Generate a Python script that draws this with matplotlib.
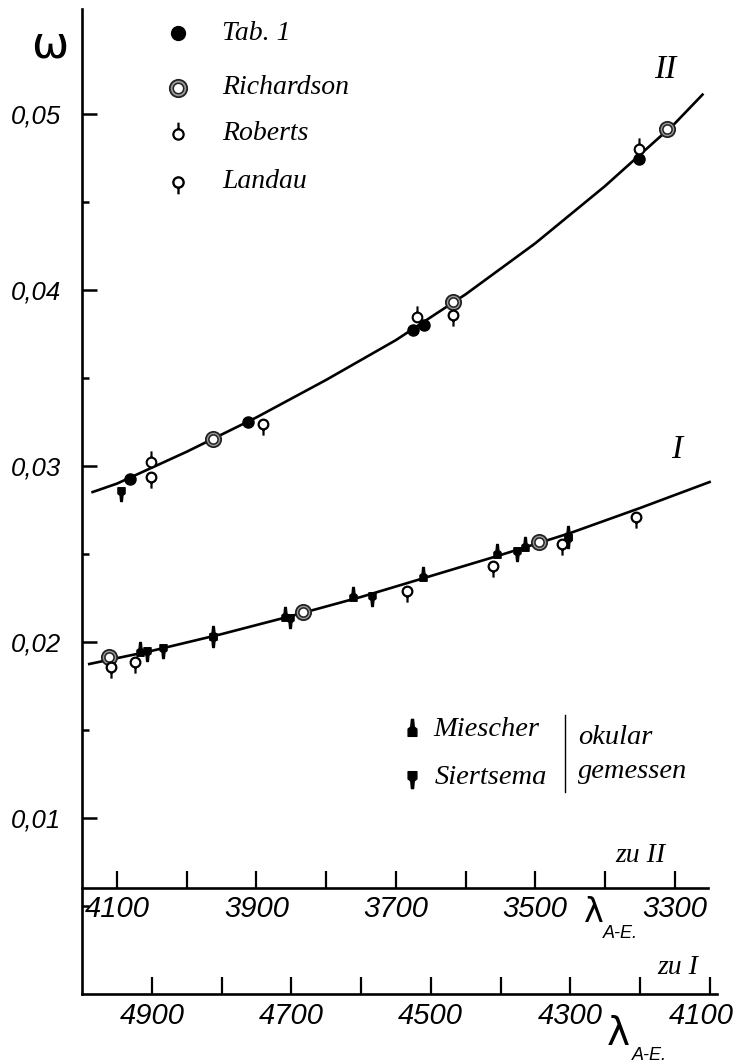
import matplotlib
matplotlib.use('Agg')
import matplotlib.pyplot as plt
from matplotlib.path import Path

# ---- data -------------------------------------------------------------
# curve I, wavelength read on the lower scale ("zu I")
lam_I = [4990, 4900, 4800, 4700, 4600, 4500, 4400, 4300, 4200, 4100]
om_I = [0.01875, 0.01950, 0.02045, 0.02148, 0.02256, 0.02375, 0.02494,
        0.02619, 0.02761, 0.02909]

# curve II, wavelength read on the upper scale ("zu II")
lam_II = [4135, 4100, 4000, 3900, 3800, 3700, 3600, 3500, 3400, 3300, 3260]
om_II = [0.02852, 0.02900, 0.03081, 0.03276, 0.03489, 0.03715, 0.03975,
         0.04265, 0.04590, 0.04945, 0.05110]

# measured points on curve II
tab_II_lam = [4081, 3912, 3675, 3660, 3351]
tab_II_om = [0.02926, 0.03250, 0.03770, 0.03800, 0.04744]
rich_II_lam = [3962, 3618, 3311]
rich_II_om = [0.03153, 0.03932, 0.04915]
rob_II_lam = [4051, 3670, 3351]
rob_II_om = [0.03023, 0.03847, 0.04801]
lan_II_lam = [4051, 3891, 3618]
lan_II_om = [0.02938, 0.03239, 0.03858]
sie_II_lam = [4094]
sie_II_om = [0.02852]

# measured points on curve I
rich_I_lam = [4962, 4683, 4345]
rich_I_om = [0.01915, 0.02170, 0.02568]
lan_I_lam = [4959, 4924, 4534, 4411, 4312, 4206]
lan_I_om = [0.01858, 0.01886, 0.02290, 0.02432, 0.02557, 0.02710]
mie_I_lam = [4917, 4812, 4709, 4612, 4511, 4405, 4365, 4303]
mie_I_om = [0.01949, 0.02040, 0.02148, 0.02261, 0.02375, 0.02506, 0.02545, 0.02608]
sie_I_lam = [4907, 4884, 4812, 4702, 4584, 4376, 4303]
sie_I_om = [0.01943, 0.01960, 0.02023, 0.02131, 0.02256, 0.02511, 0.02585]

y_ticks = [0.01, 0.02, 0.03, 0.04, 0.05]
y_labels = ['0,01', '0,02', '0,03', '0,04', '0,05']
y_minor = [0.005, 0.015, 0.025, 0.035, 0.045]
ticks_I = [4900, 4700, 4500, 4300, 4100]
minor_I = [4800, 4600, 4400, 4200]
ticks_II = [4100, 3900, 3700, 3500, 3300]
minor_II = [4000, 3800, 3600, 3400]
shift = 850.2   # offset between the two wavelength scales

NUM = dict(family='Liberation Sans', style='italic')
SER = dict(family='Liberation Serif', style='italic')


def pin(up):
    s = 1 if up else -1
    circ = Path.circle((0, 0), 1.0)
    stem = Path([(0, s * 1.0), (0, s * 2.3)], [Path.MOVETO, Path.LINETO])
    return Path.make_compound_path(circ, stem)


def bottle(up):
    s = 1 if up else -1
    v = [(-0.75, -1.0), (0.75, -1.0), (0.75, 0.25), (0.3, 0.6), (0.18, 1.9),
         (-0.18, 1.9), (-0.3, 0.6), (-0.75, 0.25), (-0.75, -1.0)]
    v = [(a, s * b) for a, b in v]
    return Path(v, closed=True)


ROB = pin(True)
LAN = pin(False)
MIE = bottle(True)
SIE = bottle(False)


def rich(a, x, y, ms=11, **kw):
    a.plot(x, y, 'o', ms=ms, mfc='#9a9a9a', mec='#222222', mew=1.3, ls='none', zorder=5, **kw)
    a.plot(x, y, 'o', ms=ms * 0.6, mfc='white', mec='#222222', mew=1.1, ls='none', zorder=6, **kw)


W, H = 735, 1063
fig = plt.figure(figsize=(W / 100, H / 100), dpi=100)

ax = fig.add_axes([82 / W, 1 - 994 / H, (717 - 82) / W, (994 - 9) / H])
ax.set_xlim(5000.4, 4089.4)
ax.set_ylim(0, 985 / 17600)
for s in ['top', 'right']:
    ax.spines[s].set_visible(False)
for s in ['left', 'bottom']:
    ax.spines[s].set_linewidth(1.9)
ax.set_yticks(y_ticks)
ax.set_yticklabels(y_labels, fontsize=18.5, **NUM)
ax.set_yticks(y_minor, minor=True)
ax.set_xticks(ticks_I)
# last label is set a little to the left, as in the print
ax.set_xticklabels([str(t) for t in ticks_I[:-1]] + [''], fontsize=21, **NUM)
ax.annotate(str(ticks_I[-1]), xy=(ticks_I[-1], 0), xycoords=('data', 'axes fraction'),
            xytext=(-6, -6), textcoords='offset points', ha='center', va='top',
            fontsize=21, **NUM)
ax.set_xticks(minor_I, minor=True)
ax.tick_params(axis='y', which='major', direction='in', length=11, width=1.8, pad=15)
ax.tick_params(axis='y', which='minor', direction='in', length=5, width=1.8)
ax.tick_params(axis='x', which='both', direction='in', length=12, width=1.6, pad=6)

ax2 = ax.twiny()
ax2.set_xlim(5000.4 - shift, 4089.4 - shift)
for s in ['top', 'right', 'left']:
    ax2.spines[s].set_visible(False)
ax2.spines['bottom'].set_visible(True)
ax2.spines['bottom'].set_position(('data', 0.00602))
ax2.spines['bottom'].set_bounds(5000.4 - shift, 3252)
ax2.spines['bottom'].set_linewidth(1.9)
ax2.xaxis.set_ticks_position('bottom')
ax2.xaxis.set_label_position('bottom')
ax2.set_xticks(ticks_II)
ax2.set_xticklabels([str(t) for t in ticks_II], fontsize=21, **NUM)
ax2.set_xticks(minor_II, minor=True)
ax2.tick_params(axis='x', which='both', direction='in', length=12, width=1.6, pad=5)

# curves
ax.plot(lam_I, om_I, color='black', lw=1.9, zorder=3)
ax2.plot(lam_II, om_II, color='black', lw=1.9, zorder=3)

# points curve II
ax2.plot(tab_II_lam, tab_II_om, 'o', ms=8, color='black', ls='none', zorder=5)
rich(ax2, rich_II_lam, rich_II_om)
ax2.plot(rob_II_lam, rob_II_om, marker=ROB, ms=16, mfc='white', mec='black', mew=1.5, ls='none', zorder=6)
ax2.plot(lan_II_lam, lan_II_om, marker=LAN, ms=16, mfc='white', mec='black', mew=1.6, ls='none', zorder=6)
ax2.plot(sie_II_lam, sie_II_om, marker=SIE, ms=13, color='black', ls='none', zorder=5)

# points curve I
ax.plot(mie_I_lam, mie_I_om, marker=MIE, ms=13, color='black', ls='none', zorder=5)
ax.plot(sie_I_lam, sie_I_om, marker=SIE, ms=13, color='black', ls='none', zorder=5)
rich(ax, rich_I_lam, rich_I_om)
ax.plot(lan_I_lam, lan_I_om, marker=LAN, ms=16, mfc='white', mec='black', mew=1.6, ls='none', zorder=6)

# legend and free labels, placed in pixel coordinates
leg = fig.add_axes([0, 0, 1, 1], facecolor='none')
leg.set_xlim(0, W)
leg.set_ylim(H, 0)
leg.axis('off')
leg.plot([178], [33], 'o', ms=10, color='black')
rich(leg, [178], [88], ms=12.5)
leg.plot([178], [134], marker=ROB, ms=17, mfc='white', mec='black', mew=1.6)
leg.plot([178], [182], marker=LAN, ms=17, mfc='white', mec='black', mew=1.7)
for y, t in zip([33, 88, 134, 182], ['Tab. 1', 'Richardson', 'Roberts', 'Landau']):
    leg.text(222, y, t, fontsize=20, va='center', ha='left', **SER)

leg.plot([412], [730], marker=MIE, ms=16, color='black')
leg.plot([412], [777], marker=SIE, ms=16, color='black')
leg.text(433, 730, 'Miescher', fontsize=20.5, va='center', ha='left', **SER)
leg.text(435, 777, 'Siertsema', fontsize=20.5, va='center', ha='left', **SER)
leg.plot([565, 565], [715, 792], color='black', lw=1.0)
leg.text(578, 738, 'okular', fontsize=20.5, va='center', ha='left', **SER)
leg.text(578, 772, 'gemessen', fontsize=20.5, va='center', ha='left', **SER)

leg.text(50, 45, 'ω', fontsize=32, ha='center', va='center', family='DejaVu Sans')
leg.text(665, 70, 'II', fontsize=24, ha='center', va='center', **SER)
leg.text(677, 450, 'I', fontsize=24, ha='center', va='center', **SER)
leg.text(640, 855, 'zu II', fontsize=20, ha='center', va='center', **SER)
leg.text(678, 967, 'zu I', fontsize=20, ha='center', va='center', **SER)
leg.text(594, 912, 'λ', fontsize=24, ha='center', va='center', family='DejaVu Sans')
leg.text(603, 933, 'A-E.', fontsize=13, ha='left', va='center', **NUM)
leg.text(618, 1034, 'λ', fontsize=28, ha='center', va='center', family='DejaVu Sans')
leg.text(632, 1055, 'A-E.', fontsize=13, ha='left', va='center', **NUM)

fig.savefig('out.png', dpi=100)
